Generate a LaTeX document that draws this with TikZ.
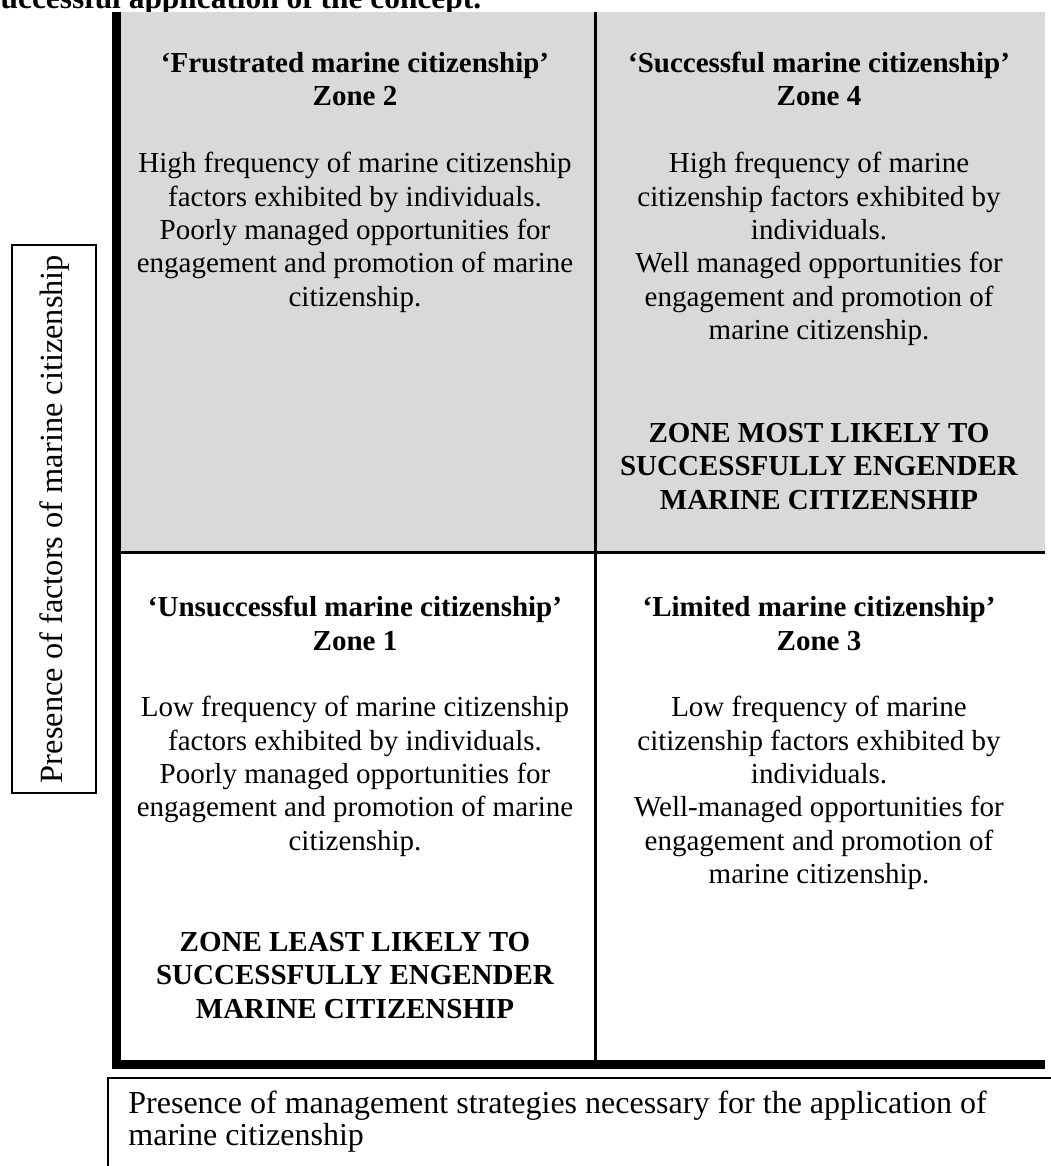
\documentclass[tikz,border=0pt]{standalone}
\usepackage{fontspec}
\setmainfont{Liberation Serif}
\definecolor{zonegray}{HTML}{D9D9D9}
\begin{document}
\begin{tikzpicture}[x=0.5pt,y=-0.5pt,
		zonehead/.style={font=\fontsize{14.5}{16.67}\selectfont\bfseries,align=center,inner sep=0pt,anchor=base},
		zonetext/.style={font=\fontsize{14.5}{16.67}\selectfont,align=center,inner sep=0pt,anchor=base},
		axisbox/.style={draw,line width=1pt,font=\fontsize{16.2}{14.2}\selectfont,inner sep=0pt}]
	\useasboundingbox (0,0) rectangle (1050,1166);

	\node(title) [anchor=base west,inner sep=0pt,font=\fontsize{15.7}{18}\selectfont\bfseries] at (-12,9) {successful application of the concept.};

	\fill[zonegray] (121,12) rectangle (1045,552);
	\draw[line width=1.5pt] (595.5,12) -- (595.5,1060);
	\draw[line width=1.5pt] (121,552.5) -- (1045,552.5);
	\draw[line width=4.5pt] (116.5,12) -- (116.5,1069);
	\draw[line width=4.5pt] (112,1064.5) -- (1045,1064.5);

	% multi-line nodes sit on the baseline of their last line
	\node(z2head) [zonehead] at (355,105.8) {‘Frustrated marine citizenship’\\Zone 2};
	\node(z2text) [zonetext] at (355,306.3) {High frequency of marine citizenship\\factors exhibited by individuals.\\Poorly managed opportunities for\\engagement and promotion of marine\\citizenship.};

	\node(z4head) [zonehead] at (819,105.8) {‘Successful marine citizenship’\\Zone 4};
	\node(z4text) [zonetext] at (819,339.6) {High frequency of marine\\citizenship factors exhibited by\\individuals.\\Well managed opportunities for\\engagement and promotion of\\marine citizenship.};
	\node(z4note) [zonehead] at (819,509) {ZONE MOST LIKELY TO\\SUCCESSFULLY ENGENDER\\MARINE CITIZENSHIP};

	\node(z1head) [zonehead] at (355,650.3) {‘Unsuccessful marine citizenship’\\Zone 1};
	\node(z1text) [zonetext] at (355,850.3) {Low frequency of marine citizenship\\factors exhibited by individuals.\\Poorly managed opportunities for\\engagement and promotion of marine\\citizenship.};
	\node(z1note) [zonehead] at (355,1018.3) {ZONE LEAST LIKELY TO\\SUCCESSFULLY ENGENDER\\MARINE CITIZENSHIP};

	\node(z3head) [zonehead] at (819,650.3) {‘Limited marine citizenship’\\Zone 3};
	\node(z3text) [zonetext] at (819,883.6) {Low frequency of marine\\citizenship factors exhibited by\\individuals.\\Well-managed opportunities for\\engagement and promotion of\\marine citizenship.};

	\node(yaxis) [axisbox,rotate=90,minimum width=274pt,minimum height=42pt] at (54.2,519) {Presence of factors of marine citizenship};

	\draw[line width=1pt] (107.7,1180) -- (107.7,1077.5) -- (1060,1077.5);
	\node(xaxis) [anchor=base west,align=left,inner sep=0pt,font=\fontsize{16}{14.15}\selectfont] at (128,1145) {Presence of management strategies necessary for the application of\\marine citizenship};
\end{tikzpicture}
\end{document}
